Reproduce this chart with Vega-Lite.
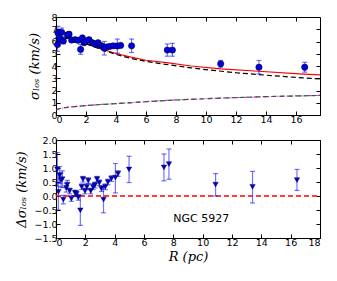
{
  "$schema": "https://vega.github.io/schema/vega-lite/v6.json",
  "padding": {"left": 15, "top": 11, "right": 5, "bottom": 5},
  "spacing": 10,
  "config": {
    "view": {"stroke": "#000000", "strokeWidth": 1},
    "axis": {"grid": false, "domainColor": "#000000", "tickColor": "#000000", "tickSize": -4, "labelFont": "DejaVu Sans", "labelFontSize": 9.5, "labelColor": "#000000", "labelPadding": 3, "titleFont": "DejaVu Serif", "titleFontStyle": "italic", "titleFontWeight": "normal", "titleFontSize": 13, "titleColor": "#000000"}
  },
  "datasets": {
    "top": [
      {"R": 0.1, "s": 5.75, "lo": 5.2, "hi": 6.35},
      {"R": 0.13, "s": 6.7, "lo": 6.15, "hi": 7.25},
      {"R": 0.27, "s": 6.2, "lo": 5.9, "hi": 6.5},
      {"R": 0.38, "s": 6.75, "lo": 6.4, "hi": 7.1},
      {"R": 0.49, "s": 6.05, "lo": 5.8, "hi": 6.3},
      {"R": 0.76, "s": 6.53, "lo": 6.35, "hi": 6.7},
      {"R": 0.87, "s": 6.6, "lo": 6.45, "hi": 6.75},
      {"R": 1.04, "s": 6.12, "lo": 6.0, "hi": 6.25},
      {"R": 1.27, "s": 6.15, "lo": 6.05, "hi": 6.25},
      {"R": 1.47, "s": 6.1, "lo": 6.0, "hi": 6.2},
      {"R": 1.64, "s": 5.35, "lo": 4.95, "hi": 5.75},
      {"R": 1.76, "s": 6.3, "lo": 6.2, "hi": 6.4},
      {"R": 1.87, "s": 5.9, "lo": 5.8, "hi": 6.0},
      {"R": 1.98, "s": 6.0, "lo": 5.9, "hi": 6.1},
      {"R": 2.2, "s": 6.15, "lo": 6.05, "hi": 6.25},
      {"R": 2.42, "s": 5.9, "lo": 5.8, "hi": 6.0},
      {"R": 2.58, "s": 5.8, "lo": 5.7, "hi": 5.9},
      {"R": 2.8, "s": 5.9, "lo": 5.8, "hi": 6.0},
      {"R": 2.93, "s": 5.7, "lo": 5.6, "hi": 5.8},
      {"R": 3.09, "s": 5.62, "lo": 5.5, "hi": 5.75},
      {"R": 3.22, "s": 5.45, "lo": 4.9, "hi": 6.0},
      {"R": 3.38, "s": 5.55, "lo": 5.45, "hi": 5.65},
      {"R": 3.58, "s": 5.6, "lo": 5.5, "hi": 5.7},
      {"R": 3.82, "s": 5.65, "lo": 5.55, "hi": 5.75},
      {"R": 4.09, "s": 5.63, "lo": 5.05, "hi": 6.2},
      {"R": 4.31, "s": 5.68, "lo": 5.58, "hi": 5.78},
      {"R": 5.04, "s": 5.65, "lo": 5.1, "hi": 6.2},
      {"R": 7.42, "s": 5.3, "lo": 4.8, "hi": 5.8},
      {"R": 7.76, "s": 5.3, "lo": 4.8, "hi": 5.85},
      {"R": 10.98, "s": 4.18, "lo": 3.9, "hi": 4.45},
      {"R": 13.53, "s": 3.9, "lo": 3.35, "hi": 4.45},
      {"R": 16.58, "s": 3.9, "lo": 3.5, "hi": 4.3}
    ],
    "red": [
      {"R": 0.0, "v": 6.0}, {"R": 0.15, "v": 6.1}, {"R": 0.3, "v": 6.2}, {"R": 0.5, "v": 6.27}, {"R": 0.7, "v": 6.3},
      {"R": 1.0, "v": 6.25}, {"R": 1.5, "v": 6.07}, {"R": 2.0, "v": 5.85}, {"R": 3.0, "v": 5.4}, {"R": 4.0, "v": 5.02},
      {"R": 5.0, "v": 4.72}, {"R": 6.0, "v": 4.47}, {"R": 7.5, "v": 4.25}, {"R": 9.0, "v": 4.0}, {"R": 11.0, "v": 3.77},
      {"R": 13.5, "v": 3.57}, {"R": 16.5, "v": 3.33}, {"R": 17.6, "v": 3.27}
    ],
    "black": [
      {"R": 0.0, "v": 5.95}, {"R": 0.15, "v": 6.05}, {"R": 0.3, "v": 6.15}, {"R": 0.5, "v": 6.23}, {"R": 0.7, "v": 6.27},
      {"R": 1.0, "v": 6.22}, {"R": 1.5, "v": 6.03}, {"R": 2.0, "v": 5.8}, {"R": 3.0, "v": 5.35}, {"R": 4.0, "v": 4.95},
      {"R": 5.0, "v": 4.62}, {"R": 6.0, "v": 4.37}, {"R": 7.5, "v": 4.1}, {"R": 9.0, "v": 3.85}, {"R": 10.0, "v": 3.7},
      {"R": 12.0, "v": 3.45}, {"R": 14.0, "v": 3.25}, {"R": 16.0, "v": 3.07}, {"R": 17.6, "v": 2.95}
    ],
    "low": [
      {"R": 0.0, "v": 0.43}, {"R": 0.25, "v": 0.52}, {"R": 0.5, "v": 0.58}, {"R": 1.0, "v": 0.66}, {"R": 2.0, "v": 0.77},
      {"R": 3.0, "v": 0.86}, {"R": 4.0, "v": 0.93}, {"R": 5.5, "v": 1.05}, {"R": 7.5, "v": 1.2}, {"R": 9.0, "v": 1.28},
      {"R": 11.0, "v": 1.38}, {"R": 14.0, "v": 1.5}, {"R": 17.6, "v": 1.6}
    ],
    "bottom": [
      {"R": 0.09, "d": 0.95, "lo": 0.35, "hi": 1.55},
      {"R": 0.16, "d": 0.15, "lo": -0.5, "hi": 0.8},
      {"R": 0.25, "d": 0.75, "lo": 0.45, "hi": 1.05},
      {"R": 0.34, "d": 0.57, "lo": 0.32, "hi": 0.82},
      {"R": 0.43, "d": 0.6, "lo": 0.3, "hi": 0.9},
      {"R": 0.5, "d": -0.13, "lo": -0.28, "hi": 0.02},
      {"R": 0.7, "d": 0.29, "lo": 0.14, "hi": 0.44},
      {"R": 0.77, "d": 0.41, "lo": 0.26, "hi": 0.56},
      {"R": 0.93, "d": 0.18, "lo": 0.08, "hi": 0.28},
      {"R": 1.05, "d": -0.09, "lo": -0.19, "hi": 0.01},
      {"R": 1.3, "d": 0.11, "lo": 0.01, "hi": 0.21},
      {"R": 1.4, "d": 0.08, "lo": -0.02, "hi": 0.18},
      {"R": 1.52, "d": -0.05, "lo": -0.15, "hi": 0.05},
      {"R": 1.66, "d": -0.51, "lo": -1.05, "hi": 0.03},
      {"R": 1.75, "d": 0.33, "lo": 0.23, "hi": 0.43},
      {"R": 1.84, "d": 0.6, "lo": 0.5, "hi": 0.7},
      {"R": 1.98, "d": 0.18, "lo": 0.08, "hi": 0.28},
      {"R": 2.1, "d": 0.33, "lo": 0.23, "hi": 0.43},
      {"R": 2.2, "d": 0.55, "lo": 0.45, "hi": 0.65},
      {"R": 2.37, "d": 0.18, "lo": 0.08, "hi": 0.28},
      {"R": 2.53, "d": 0.33, "lo": 0.23, "hi": 0.43},
      {"R": 2.65, "d": 0.39, "lo": 0.29, "hi": 0.49},
      {"R": 2.8, "d": 0.6, "lo": 0.5, "hi": 0.7},
      {"R": 2.95, "d": 0.47, "lo": 0.37, "hi": 0.57},
      {"R": 3.1, "d": 0.26, "lo": 0.16, "hi": 0.36},
      {"R": 3.24, "d": -0.13, "lo": -0.6, "hi": 0.35},
      {"R": 3.36, "d": 0.33, "lo": 0.23, "hi": 0.43},
      {"R": 3.54, "d": 0.5, "lo": 0.4, "hi": 0.6},
      {"R": 3.78, "d": 0.62, "lo": 0.52, "hi": 0.72},
      {"R": 4.05, "d": 0.66, "lo": 0.11, "hi": 1.16},
      {"R": 4.23, "d": 0.8, "lo": 0.7, "hi": 0.9},
      {"R": 4.98, "d": 0.95, "lo": 0.48, "hi": 1.42},
      {"R": 7.36, "d": 1.02, "lo": 0.54, "hi": 1.5},
      {"R": 7.7, "d": 1.14, "lo": 0.6, "hi": 1.68},
      {"R": 10.88, "d": 0.41, "lo": 0.0, "hi": 0.8},
      {"R": 13.4, "d": 0.33, "lo": -0.25, "hi": 0.88},
      {"R": 16.43, "d": 0.57, "lo": 0.2, "hi": 0.95}
    ],
    "zero": [{"R": 0, "d": 0}, {"R": 18, "d": 0}],
    "label": [{"R": 8.0, "d": -0.83, "t": "NGC 5927"}]
  },
  "vconcat": [
    {
      "width": 264,
      "height": 98,
      "resolve": {"axis": {"x": "independent", "y": "independent"}},
      "layer": [
        {
          "data": {"name": "top"},
          "mark": {"type": "rule", "color": "#0000ff", "opacity": 0.55, "strokeWidth": 1.2},
          "encoding": {
            "x": {"field": "R", "type": "quantitative", "scale": {"domain": [0, 17.6], "nice": false, "zero": false},
                  "axis": {"orient": "bottom", "values": [0, 2, 4, 6, 8, 10, 12, 14, 16], "title": null, "format": "d"}},
            "y": {"field": "lo", "type": "quantitative", "scale": {"domain": [0, 8], "nice": false, "zero": false},
                  "axis": {"orient": "left", "values": [0, 1, 2, 3, 4, 5, 6, 7, 8], "title": "σₗₒₛ (km/s)", "format": "d", "titlePadding": 9}},
            "y2": {"field": "hi"}
          }
        },
        {
          "data": {"name": "red"},
          "mark": {"type": "line", "color": "#ff0000", "strokeWidth": 1.2},
          "encoding": {
            "x": {"field": "R", "type": "quantitative", "axis": {"orient": "top", "labels": false, "title": null, "values": [0, 2, 4, 6, 8, 10, 12, 14, 16], "domain": false}},
            "y": {"field": "v", "type": "quantitative", "axis": {"orient": "right", "labels": false, "title": null, "values": [0, 1, 2, 3, 4, 5, 6, 7, 8], "domain": false}}
          }
        },
        {
          "data": {"name": "black"},
          "mark": {"type": "line", "color": "#000000", "strokeWidth": 1.2, "strokeDash": [5, 3]},
          "encoding": {
            "x": {"field": "R", "type": "quantitative", "axis": null},
            "y": {"field": "v", "type": "quantitative", "axis": null}
          }
        },
        {
          "data": {"name": "low"},
          "mark": {"type": "line", "color": "#008000", "strokeWidth": 1.2, "strokeDash": [5, 3]},
          "encoding": {
            "x": {"field": "R", "type": "quantitative", "axis": null},
            "y": {"field": "v", "type": "quantitative", "axis": null}
          }
        },
        {
          "data": {"name": "low"},
          "mark": {"type": "line", "color": "#bf00bf", "strokeWidth": 1.2, "strokeDash": [4, 2, 1, 2], "opacity": 0.8},
          "encoding": {
            "x": {"field": "R", "type": "quantitative", "axis": null},
            "y": {"field": "v", "type": "quantitative", "axis": null}
          }
        },
        {
          "data": {"name": "top"},
          "mark": {"type": "tick", "color": "#0000ff", "opacity": 0.55, "orient": "horizontal", "size": 5, "thickness": 1.2},
          "encoding": {
            "x": {"field": "R", "type": "quantitative", "axis": null},
            "y": {"field": "lo", "type": "quantitative", "axis": null}
          }
        },
        {
          "data": {"name": "top"},
          "mark": {"type": "tick", "color": "#0000ff", "opacity": 0.55, "orient": "horizontal", "size": 5, "thickness": 1.2},
          "encoding": {
            "x": {"field": "R", "type": "quantitative", "axis": null},
            "y": {"field": "hi", "type": "quantitative", "axis": null}
          }
        },
        {
          "data": {"name": "top"},
          "mark": {"type": "point", "shape": "circle", "filled": true, "fill": "#0000e6", "stroke": "#000000", "strokeWidth": 0.5, "size": 40, "opacity": 1},
          "encoding": {
            "x": {"field": "R", "type": "quantitative", "axis": null},
            "y": {"field": "s", "type": "quantitative", "axis": null}
          }
        }
      ]
    },
    {
      "width": 264,
      "height": 98,
      "resolve": {"axis": {"x": "independent", "y": "independent"}},
      "layer": [
        {
          "data": {"name": "bottom"},
          "mark": {"type": "rule", "color": "#0000ff", "opacity": 0.55, "strokeWidth": 1.2},
          "encoding": {
            "x": {"field": "R", "type": "quantitative", "scale": {"domain": [0, 18], "nice": false, "zero": false},
                  "axis": {"orient": "bottom", "values": [0, 2, 4, 6, 8, 10, 12, 14, 16, 18], "title": "R (pc)", "format": "d", "titlePadding": 4}},
            "y": {"field": "lo", "type": "quantitative", "scale": {"domain": [-1.5, 2], "nice": false, "zero": false},
                  "axis": {"orient": "left", "values": [-1.5, -1, -0.5, 0, 0.5, 1, 1.5, 2], "title": "Δσₗₒₛ (km/s)", "format": ".1f", "titlePadding": 5}},
            "y2": {"field": "hi"}
          }
        },
        {
          "data": {"name": "zero"},
          "mark": {"type": "line", "color": "#ff0000", "strokeWidth": 1.5, "strokeDash": [5, 3]},
          "encoding": {
            "x": {"field": "R", "type": "quantitative", "axis": {"orient": "top", "labels": false, "title": null, "values": [0, 2, 4, 6, 8, 10, 12, 14, 16, 18], "domain": false}},
            "y": {"field": "d", "type": "quantitative", "axis": {"orient": "right", "labels": false, "title": null, "values": [-1.5, -1, -0.5, 0, 0.5, 1, 1.5, 2], "domain": false}}
          }
        },
        {
          "data": {"name": "bottom"},
          "mark": {"type": "tick", "color": "#0000ff", "opacity": 0.55, "orient": "horizontal", "size": 5, "thickness": 1.2},
          "encoding": {
            "x": {"field": "R", "type": "quantitative", "axis": null},
            "y": {"field": "lo", "type": "quantitative", "axis": null}
          }
        },
        {
          "data": {"name": "bottom"},
          "mark": {"type": "tick", "color": "#0000ff", "opacity": 0.55, "orient": "horizontal", "size": 5, "thickness": 1.2},
          "encoding": {
            "x": {"field": "R", "type": "quantitative", "axis": null},
            "y": {"field": "hi", "type": "quantitative", "axis": null}
          }
        },
        {
          "data": {"name": "bottom"},
          "mark": {"type": "point", "shape": "triangle-down", "filled": true, "fill": "#0000cc", "stroke": "#000033", "strokeWidth": 0.4, "size": 30, "opacity": 1},
          "encoding": {
            "x": {"field": "R", "type": "quantitative", "axis": null},
            "y": {"field": "d", "type": "quantitative", "axis": null}
          }
        },
        {
          "data": {"name": "label"},
          "mark": {"type": "text", "align": "left", "baseline": "middle", "font": "DejaVu Sans", "fontSize": 11, "color": "#000000"},
          "encoding": {
            "x": {"field": "R", "type": "quantitative", "axis": null},
            "y": {"field": "d", "type": "quantitative", "axis": null},
            "text": {"field": "t"}
          }
        }
      ]
    }
  ]
}
